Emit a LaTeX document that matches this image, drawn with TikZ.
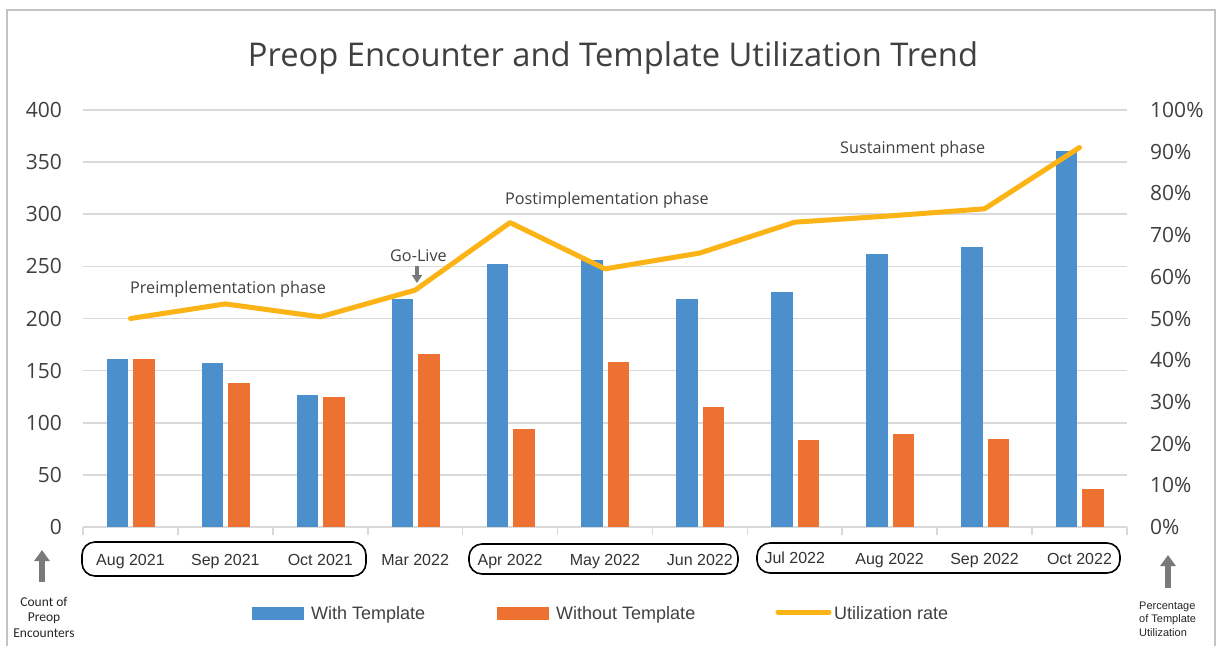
\documentclass[tikz,border=0pt]{standalone}
\usepackage{fontspec}
\setmainfont{Open Sans}
\newfontfamily\arialf{Liberation Sans}
\newfontfamily\calibf{Carlito}
\usetikzlibrary{arrows.meta}
\definecolor{barblue}{HTML}{4C8FCD}
\definecolor{barorange}{HTML}{ED7130}
\definecolor{linegold}{HTML}{FCB316}
\definecolor{gridgray}{HTML}{D9D9D9}
\definecolor{txt}{HTML}{404040}
\definecolor{arrowgray}{HTML}{7A7A7A}
\tikzset{
  grid line/.style={draw=gridgray, line width=1.6pt},
  bluebar/.style={fill=barblue, draw=none},
  orangebar/.style={fill=barorange, draw=none},
  rate/.style={draw=linegold, line width=5pt, line join=round, line cap=round},
  ylab/.style={text=txt, font=\fontsize{21}{25}\selectfont, inner sep=0pt},
  month/.style={text=black!80, font=\arialf\fontsize{16}{19}\selectfont, inner sep=0pt, anchor=base},
  phasebox/.style={draw=black, line width=1.6pt, rounded corners=13pt},
  phase/.style={text=txt, font=\fontsize{16.2}{19}\selectfont, inner sep=0pt, anchor=base west},
  legtxt/.style={text=txt, font=\arialf\fontsize{18}{21}\selectfont, inner sep=0pt, anchor=base west},
  bigarrow/.style={draw=arrowgray, line width=6pt, -{Triangle[width=15pt,length=11pt]}},
}
\begin{document}
\begin{tikzpicture}[x=1pt, y=-1pt]
\useasboundingbox (0,0) rectangle (1217,646);
\fill[white] (0,0) rectangle (1217,646);
% frame
\draw[draw=gridgray!90!black, line width=1.5pt] (7,646) -- (7,10) -- (1215,10) -- (1215,646);
% title
\node[text=txt, font=\fontsize{32.7}{38}\selectfont, inner sep=0pt, anchor=base] (title) at (613,66) {Preop Encounter and Template Utilization Trend};
% grid lines and left axis labels
\foreach \v in {0,50,100,150,200,250,300,350,400} {
  \pgfmathsetmacro{\yy}{527-1.0425*\v}
  \draw[grid line] (83,\yy) -- (1127,\yy);
  \node[ylab, anchor=east] (yl\v) at (62,\yy) {\v};
}
% right axis labels
\foreach \p/\lab in {0/0\%,10/10\%,20/20\%,30/30\%,40/40\%,50/50\%,60/60\%,70/70\%,80/80\%,90/90\%,100/100\%} {
  \pgfmathsetmacro{\yy}{527-4.17*\p}
  \node[ylab, anchor=west] (yr\p) at (1150,\yy) {\lab};
}
% ticks
\foreach \t in {0,...,11} {
  \pgfmathsetmacro{\xx}{83+94.9*\t}
  \draw[grid line] (\xx,527) -- (\xx,535);
}
% bars, months and rate points
\foreach \i/\b/\o/\p/\m/\bl in {1/161/161/50.0/Aug 2021/565, 2/157/138/53.5/Sep 2021/565, 3/127/125/50.4/Oct 2021/565, 4/219/166/56.8/Mar 2022/565, 5/252/94/73.0/Apr 2022/565, 6/256/158/61.9/May 2022/565, 7/219/115/65.7/Jun 2022/565, 8/225/83/73.1/Jul 2022/563, 9/262/89/74.6/Aug 2022/564, 10/269/84/76.3/Sep 2022/564, 11/361/36/91.0/Oct 2022/564} {
  \pgfmathsetmacro{\cx}{83+94.9*(\i-0.5)}
  \pgfmathsetmacro{\yb}{527-1.0425*\b}
  \pgfmathsetmacro{\yo}{527-1.0425*\o}
  \pgfmathsetmacro{\yp}{527-4.17*\p}
  \fill[bluebar] (\cx-23.5,527) rectangle (\cx-2,\yb);
  \fill[orangebar] (\cx+3,527) rectangle (\cx+24.5,\yo);
  \node[month] (m\i) at (\cx,\bl) {\m};
  \coordinate (u\i) at (\cx,\yp);
}
\draw[rate] (u1) -- (u2) -- (u3) -- (u4) -- (u5) -- (u6) -- (u7) -- (u8) -- (u9) -- (u10) -- (u11);
% phase boxes
\draw[phasebox] (82,542) rectangle (366,576);
\draw[phasebox] (469,544) rectangle (738,574);
\draw[phasebox] (757,543) rectangle (1120,573);
% phase labels
\node[phase] (pre) at (130,293) {Preimplementation phase};
\node[phase] (go) at (390,261) {Go-Live};
\node[phase] (post) at (505,204) {Postimplementation phase};
\node[phase] (sus) at (840,153) {Sustainment phase};
\coordinate (gotop) at (417,266);
\coordinate (gotip) at (417,283);
\draw[draw=arrowgray, line width=4pt, -{Triangle[width=10pt,length=8pt]}] (gotop) -- (gotip);
% axis arrows
\coordinate (la0) at (42,582);
\coordinate (la1) at (42,550);
\draw[bigarrow] (la0) -- (la1);
\coordinate (ra0) at (1168,588);
\coordinate (ra1) at (1168,555);
\draw[bigarrow] (ra0) -- (ra1);
\node[text=black!85, font=\calibf\fontsize{13.5}{15.5}\selectfont, align=center, inner sep=0pt] (cnt) at (44,617) {Count of\\Preop\\Encounters};
\node[text=black!85, font=\arialf\fontsize{11}{13.5}\selectfont, align=left, inner sep=0pt, anchor=west] (pct) at (1139,619) {Percentage\\of Template\\Utilization};
% legend
\fill[bluebar] (252,607) rectangle (304,620);
\node[legtxt] (lw) at (311,619) {With Template};
\fill[orangebar] (497,607) rectangle (549,620);
\node[legtxt] (lwo) at (556,619) {Without Template};
\coordinate (l1) at (778,612);
\coordinate (l2) at (829,612);
\draw[rate] (l1) -- (l2);
\node[legtxt] (lr) at (834,619) {Utilization rate};
\end{tikzpicture}
\end{document}
